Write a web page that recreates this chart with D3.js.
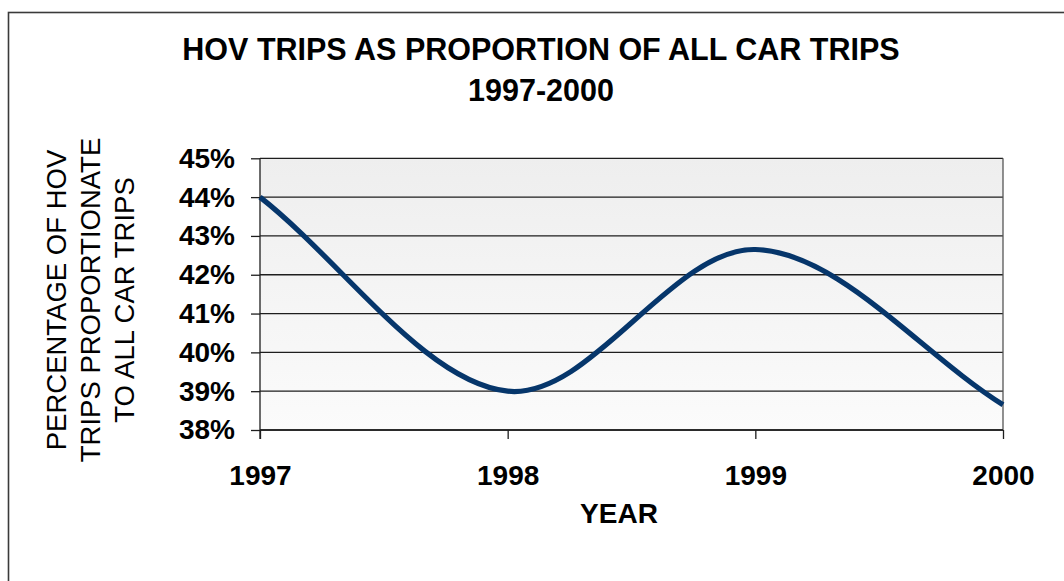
<!DOCTYPE html>
<html>
<head>
<meta charset="utf-8">
<script src="https://cdn.jsdelivr.net/npm/d3@7"></script>
<style>
  html, body { margin: 0; padding: 0; background: #ffffff; }
  svg { display: block; }
  text { font-family: "Liberation Sans", Arial, sans-serif; fill: #000; }
</style>
</head>
<body>
<svg id="chart" width="1064" height="581"></svg>
<script>
// Share of HOV trips among all car trips, by year
const years = [1997, 1998, 1999, 2000];
const hovShare = [44.0, 39.0, 42.65, 38.65];
const yTicks = [38, 39, 40, 41, 42, 43, 44, 45];
const titleLines = ["HOV TRIPS AS PROPORTION OF ALL CAR TRIPS", "1997-2000"];
const yTitleLines = ["PERCENTAGE OF HOV", "TRIPS PROPORTIONATE", "TO ALL CAR TRIPS"];
const xTitle = "YEAR";

const W = 1064, H = 581;
const plot = { left: 260, right: 1003, top: 158.3, bottom: 430 };

const svg = d3.select("#chart");

// Spreadsheet-style smoothed line: Catmull-Rom tangents inside,
// endpoint tangents taken from the reflected neighbour.
function SmoothCurve(context) { this._context = context; }
SmoothCurve.prototype = {
  areaStart() { this._line = 0; },
  areaEnd() { this._line = NaN; },
  lineStart() { this._pts = []; },
  lineEnd() {
    const p = this._pts, n = p.length, c = this._context;
    if (n === 0) return;
    c.moveTo(p[0][0], p[0][1]);
    if (n === 1) return;
    const get = i => {
      if (i < 0) return [2 * p[0][0] - p[1][0], 2 * p[0][1] - p[1][1]];
      if (i >= n) return [2 * p[n - 1][0] - p[n - 2][0], 2 * p[n - 1][1] - p[n - 2][1]];
      return p[i];
    };
    for (let i = 0; i < n - 1; i++) {
      const p0 = get(i - 1), p1 = p[i], p2 = p[i + 1], p3 = get(i + 2);
      c.bezierCurveTo(
        p1[0] + (p2[0] - p0[0]) / 6, p1[1] + (p2[1] - p0[1]) / 6,
        p2[0] - (p3[0] - p1[0]) / 6, p2[1] - (p3[1] - p1[1]) / 6,
        p2[0], p2[1]
      );
    }
  },
  point(x, y) { this._pts.push([+x, +y]); }
};
const curveSmooth = context => new SmoothCurve(context);

// Outer chart border
svg.append("rect")
  .attr("x", 8.5).attr("y", 12.5)
  .attr("width", W + 20).attr("height", H + 20)
  .attr("fill", "none")
  .attr("stroke", "#3a3a3a")
  .attr("stroke-width", 1.6);

// Title
svg.append("g").selectAll("text")
  .data(titleLines)
  .join("text")
  .attr("x", 541)
  .attr("y", (d, i) => 60 + i * 41)
  .attr("text-anchor", "middle")
  .attr("font-weight", "bold")
  .attr("font-size", 30.5)
  .text(d => d);

const x = d3.scaleLinear().domain([1997, 2000]).range([plot.left, plot.right]);
const y = d3.scaleLinear().domain([38, 45]).range([plot.bottom, plot.top]);

// Plot background gradient
const defs = svg.append("defs");
const grad = defs.append("linearGradient")
  .attr("id", "plotBg").attr("x1", 0).attr("y1", 0).attr("x2", 0).attr("y2", 1);
grad.append("stop").attr("offset", "0%").attr("stop-color", "#eeeeee");
grad.append("stop").attr("offset", "100%").attr("stop-color", "#fbfbfb");

svg.append("rect")
  .attr("x", plot.left).attr("y", plot.top)
  .attr("width", plot.right - plot.left)
  .attr("height", plot.bottom - plot.top)
  .attr("fill", "url(#plotBg)");

// Horizontal gridlines
svg.append("g").selectAll("line")
  .data(yTicks)
  .join("line")
  .attr("x1", plot.left).attr("x2", plot.right)
  .attr("y1", d => y(d)).attr("y2", d => y(d))
  .attr("stroke", "#1e1e1e")
  .attr("stroke-width", 1.3);

// Right edge of the plot area
svg.append("line")
  .attr("x1", plot.right).attr("x2", plot.right)
  .attr("y1", plot.top).attr("y2", plot.bottom)
  .attr("stroke", "#555")
  .attr("stroke-width", 1.3);

// Y axis
const yAxis = d3.axisLeft(y)
  .tickValues(yTicks)
  .tickSize(9)
  .tickPadding(16)
  .tickFormat(d => d + "%");
const gy = svg.append("g")
  .attr("transform", `translate(${plot.left},0)`)
  .call(yAxis);
gy.select(".domain").remove();
gy.append("line")
  .attr("x1", 0).attr("x2", 0)
  .attr("y1", plot.top).attr("y2", plot.bottom + 9)
  .attr("stroke", "#1e1e1e").attr("stroke-width", 1.3);
gy.selectAll(".tick line").attr("stroke", "#1e1e1e").attr("stroke-width", 1.3);
gy.selectAll(".tick text")
  .attr("font-family", "'Liberation Sans', Arial, sans-serif")
  .attr("font-size", 28)
  .attr("font-weight", "bold")
  .attr("fill", "#000");

// X axis
const xAxis = d3.axisBottom(x)
  .tickValues(years)
  .tickSize(9)
  .tickPadding(26)
  .tickFormat(d3.format("d"));
const gx = svg.append("g")
  .attr("transform", `translate(0,${plot.bottom})`)
  .call(xAxis);
gx.select(".domain").remove();
gx.append("line")
  .attr("x1", plot.left).attr("x2", plot.right)
  .attr("y1", 0).attr("y2", 0)
  .attr("stroke", "#1e1e1e").attr("stroke-width", 1.6);
gx.selectAll(".tick line").attr("stroke", "#1e1e1e").attr("stroke-width", 1.3);
gx.selectAll(".tick text")
  .attr("font-family", "'Liberation Sans', Arial, sans-serif")
  .attr("font-size", 28)
  .attr("font-weight", "bold")
  .attr("fill", "#000");

// X axis title
svg.append("text")
  .attr("x", 619).attr("y", 523)
  .attr("text-anchor", "middle")
  .attr("font-weight", "bold")
  .attr("font-size", 28)
  .text(xTitle);

// Y axis title (three rotated lines)
svg.append("g")
  .attr("transform", "translate(66,300) rotate(-90)")
  .selectAll("text")
  .data(yTitleLines)
  .join("text")
  .attr("x", 0)
  .attr("y", (d, i) => i * 34)
  .attr("text-anchor", "middle")
  .attr("font-size", 27.5)
  .text(d => d);

// Data line
const line = d3.line()
  .x((d, i) => x(years[i]))
  .y(d => y(d))
  .curve(curveSmooth);

svg.append("path")
  .datum(hovShare)
  .attr("d", line)
  .attr("fill", "none")
  .attr("stroke", "#06366b")
  .attr("stroke-width", 5.2)
  .attr("stroke-linejoin", "round");
</script>
</body>
</html>
